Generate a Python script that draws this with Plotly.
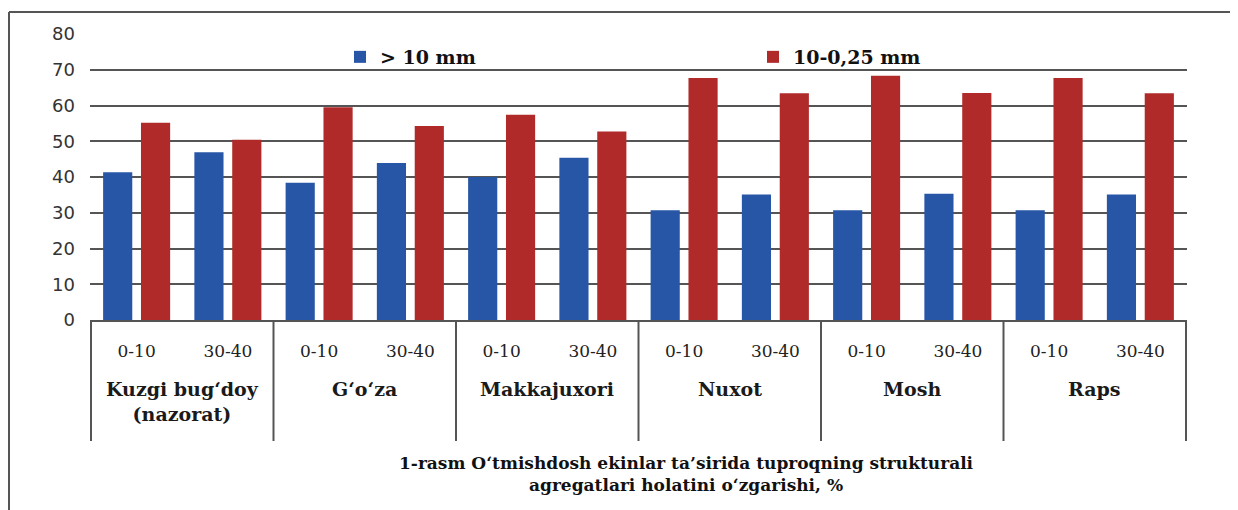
import plotly.graph_objects as go

# ---- data ----
groups = ["Kuzgi bug‘doy<br>(nazorat)", "G‘o‘za", "Makkajuxori", "Nuxot", "Mosh", "Raps"]
depths = ["0-10", "30-40"]
series_names = ["> 10 mm", "10-0,25 mm"]
coarse = [41.3, 46.9, 38.4, 43.9, 40.0, 45.4, 30.7, 35.1, 30.7, 35.3, 30.7, 35.1]
medium = [55.2, 50.4, 59.5, 54.3, 57.4, 52.7, 67.7, 63.4, 68.3, 63.5, 67.7, 63.4]
y_ticks = [0, 10, 20, 30, 40, 50, 60, 70, 80]
caption = "1-rasm O‘tmishdosh ekinlar ta’sirida tuproqning strukturali<br>agregatlari holatini o‘zgarishi, %"

# category keys (one per bar slot)
cats = [f"{g}|{d}" for g in groups for d in depths]
tick_text = [d for g in groups for d in depths]

BLUE = "#2856a6"
RED = "#b02a2a"
GRID = "#555555"

fig = go.Figure()
fig.add_trace(go.Bar(x=cats, y=coarse, name=series_names[0], marker=dict(color=BLUE, line=dict(width=0))))
fig.add_trace(go.Bar(x=cats, y=medium, name=series_names[1], marker=dict(color=RED, line=dict(width=0))))

# page has an 8px body margin: figure origin sits at page (8, 8)
OFF = 8
W, H = 1230, 502
L, T = 90 - OFF, 34 - OFF
PW, PH = 1187 - 90, 320 - 34
R = W - L - PW
B = H - T - PH

def py(page_y):
    return (320 - page_y) / PH

def px(page_x):
    return (page_x - 90) / PW

shapes = []
# group dividers in category table
for i in range(len(groups) + 1):
    xv = i * len(depths) - 0.5
    shapes.append(dict(type="line", xref="x", yref="paper", x0=xv, x1=xv, y0=0, y1=py(441),
                       line=dict(color=GRID, width=2)))
# outer frame (left and top edges visible)
shapes.append(dict(type="line", xref="paper", yref="paper", x0=px(9), x1=px(9), y0=py(12), y1=py(520),
                   line=dict(color=GRID, width=2)))
shapes.append(dict(type="line", xref="paper", yref="paper", x0=px(9), x1=px(1250), y0=py(12), y1=py(12),
                   line=dict(color=GRID, width=2)))

annotations = []
for i, g in enumerate(groups):
    annotations.append(dict(x=i * len(depths) + 0.5, xref="x", y=py(376), yref="paper",
                            text=g, showarrow=False, yanchor="top", xanchor="center",
                            font=dict(family="DejaVu Serif", size=19, color="#1a1a1a", weight="bold")))
annotations.append(dict(x=px(686), xref="paper", y=py(474), yref="paper", text=caption,
                        showarrow=False, xanchor="center", yanchor="middle",
                        font=dict(family="DejaVu Serif", size=17, color="#111", weight="bold")))

fig.update_layout(
    width=W, height=H,
    margin=dict(l=L, r=R, t=T, b=B, pad=0),
    paper_bgcolor="white", plot_bgcolor="white",
    barmode="group", bargap=0.17, bargroupgap=0.23,
    showlegend=True,
    legend=dict(orientation="h", x=px(340), y=py(57), xanchor="left", yanchor="middle",
                entrywidth=368, entrywidthmode="pixels", itemwidth=30,
                bgcolor="rgba(0,0,0,0)",
                font=dict(family="DejaVu Serif", size=19, color="#111", weight="bold")),
    xaxis=dict(type="category", categoryorder="array", categoryarray=cats,
               tickmode="array", tickvals=cats, ticktext=tick_text,
               ticks="", showgrid=False, zeroline=False,
               showline=True, linecolor=GRID, linewidth=2,
               ticklabelstandoff=15,
               tickfont=dict(family="DejaVu Serif", size=17, color="#222")),
    yaxis=dict(range=[0, 80], tickmode="array", tickvals=y_ticks,
               showgrid=True, gridcolor=GRID, gridwidth=2,
               zeroline=False, showline=False, ticks="",
               ticklabelstandoff=14,
               tickfont=dict(family="DejaVu Sans", size=18, color="#333")),
    shapes=shapes,
    annotations=annotations,
)

fig.write_html("out.html")
